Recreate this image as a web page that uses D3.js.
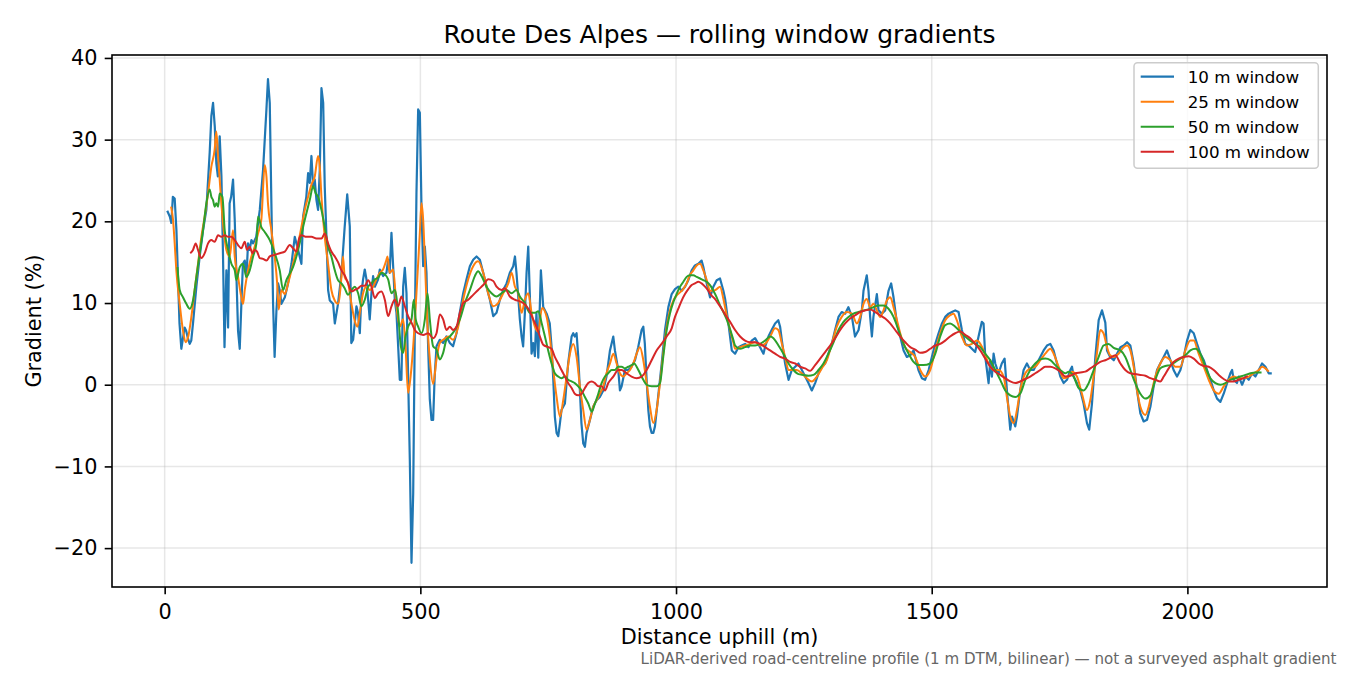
<!DOCTYPE html>
<html><head><meta charset="utf-8">
<script src="https://cdn.jsdelivr.net/npm/d3@7"></script>
<style>body{margin:0;background:#fff} svg{display:block} text{font-family:"DejaVu Sans",sans-serif}</style>
</head><body><svg id="c" width="1350" height="675"></svg>
<script>
// ---- data (distance uphill m, gradient %) ----
const win10=[[5,21.3],[10,20.6],[13,19.8],[16,23.0],[19.6,22.8],[23,18.9],[26,13.2],[29,7.5],[32.6,4.4],[36,5.8],[39,7.0],[42,6.6],[45.7,5.6],[49,5.0],[52,5.4],[55.4,7.5],[62,12],[68.5,15.7],[75,18.9],[81.5,21.4],[88,28.4],[91.3,32.9],[94.6,34.5],[98,31.6],[101,27.1],[104,25.5],[107.6,30.4],[111,25.5],[114,16.1],[117,4.6],[120.7,14],[124,7],[127,22.2],[130,23],[133.7,25.1],[137,20.2],[140,14],[143.5,6.6],[146.8,4.4],[150,9.9],[153,14.8],[156.6,15.2],[160,13.2],[163,17.3],[166,16.5],[169.6,17.7],[173,17.3],[179,18.1],[186,21.4],[192.4,26.3],[199,33.7],[202,37.4],[205.5,34.5],[208.7,22.2],[212,9.9],[215,3.4],[218.5,9.0],[221.8,12.4],[225,11.6],[228.3,9.9],[235,10.7],[241.3,12.4],[248,14.8],[254.4,18.1],[261,16.5],[267.4,14.8],[270.7,20.6],[277,23],[280.5,25.9],[283.7,24.7],[287,28],[290.3,24.3],[293.5,25.1],[296.8,22.6],[300,21.4],[303.3,26.3],[306.6,36.3],[310,34.5],[313,24.3],[316.4,18.1],[319.6,11.6],[322.9,10.3],[329.4,9.9],[332.7,7.5],[339,9.9],[345.7,13.6],[352,19.3],[357,23.3],[362,19.4],[365,5.1],[368.5,5.5],[375,9.6],[378,8.8],[381.6,6.3],[384.8,11.2],[388,12.9],[391.3,14.1],[394.6,12.9],[397.9,10.4],[401,8.0],[404.4,11.2],[407.6,13.3],[411,12.0],[417.4,12.9],[420.7,14.1],[427.2,13.3],[433.7,13.7],[437,15.3],[440,13.7],[443.5,18.6],[446.8,14.5],[450,10.4],[453.3,8.8],[456.6,4.7],[459.8,0.6],[463,0.6],[466.4,12.0],[469.6,14.3],[472.9,11.2],[476.1,1.0],[479.4,-9.2],[482.7,-21.8],[486,-13.3],[489.2,7.1],[492.4,23.5],[495.7,33.7],[499,33.3],[502.3,21.4],[505.5,14.5],[508.8,16.9],[512,13.7],[515,5.1],[518.5,-1.8],[521.8,-4.3],[525,-4.3],[528,1.0],[531.6,4.7],[538,5.5],[544.6,5.1],[551,5.9],[557.7,5.1],[564,4.7],[570.7,6.3],[577,8.8],[583.8,11.2],[590.3,12.9],[596.8,14.5],[603.3,15.3],[609.9,15.7],[616.4,15.3],[623,13.7],[629.4,12.0],[636,10.4],[642.5,8.4],[649,8.8],[655.5,10.4],[662,11.6],[668.6,12.4],[675,13.7],[681.6,14.5],[685,15.7],[688,13.7],[691.4,10.8],[694.6,8.0],[698,5.9],[701,4.7],[704.4,8.8],[707.7,13.7],[711,16.9],[714,11.2],[717.5,3.8],[720.7,5.1],[724,3.5],[727,8.8],[730.6,3.3],[735.7,14.0],[740.3,9.5],[747,8.7],[753,7.5],[756.6,4.6],[760,0.6],[763,-3.9],[766.4,-5.9],[769.7,-6.3],[773,-4.7],[776,-3.1],[782.7,-2.3],[789,2.6],[795.8,5.9],[799,6.3],[802,5.9],[805.5,6.3],[808.8,3.4],[812,-0.7],[815,-4.7],[818.6,-7.2],[821.8,-7.6],[825,-5.9],[831.6,-4.3],[838,-2.7],[844.7,-1.9],[851,-1.5],[857.7,-0.7],[864,1.0],[870.8,4.2],[877.3,5.9],[880.5,4.2],[887,1.8],[890.3,-0.7],[893.6,-0.2],[900,1.8],[906.6,1.8],[913,2.2],[919.7,3.0],[926,4.6],[932.7,6.7],[936,7.1],[939,5.0],[942.5,0.6],[945.8,-3.1],[949,-5.1],[952.3,-5.9],[955.6,-5.9],[958.8,-5.1],[965,-1.5],[972,2.6],[978.4,6.7],[985,9.5],[991.5,11.1],[998,11.7],[1004.5,12.0],[1011,11.5],[1017.5,12.0],[1024,12.8],[1030.6,14.0],[1037,14.6],[1043.6,14.8],[1050,15.2],[1053.4,14.4],[1060,12.4],[1066.5,10.7],[1073,12.0],[1079.5,12.8],[1086,13.0],[1092.6,11.5],[1096,10.5],[1102.4,7.5],[1109,4.2],[1115.5,3.8],[1122,4.6],[1128.5,4.8],[1135,5.0],[1141.6,4.6],[1148,5.4],[1154.6,5.7],[1161,5.0],[1167.6,4.2],[1171,3.8],[1174,4.6],[1180.7,5.9],[1187,6.7],[1193.7,7.5],[1200,7.9],[1203.5,7.1],[1207,5.4],[1213.3,2.6],[1220,0.6],[1226.4,1.8],[1233,2.2],[1239.4,2.6],[1246,1.8],[1252.5,1.0],[1259,0.2],[1265.5,-0.7],[1272,0.2],[1278.6,1.4],[1285,2.2],[1291.6,2.6],[1298,3.8],[1304.6,5.0],[1311,6.7],[1317.7,8.3],[1324,8.9],[1330.7,8.7],[1337,9.5],[1344,8.3],[1350,5.9],[1357,6.7],[1363.4,9.1],[1366.6,11.5],[1373,13.4],[1376.4,11.5],[1379.6,8.3],[1383,5.9],[1386,8.3],[1392.7,11.1],[1396,9.1],[1402.5,8.7],[1409,9.1],[1415.5,11.5],[1420.7,12.4],[1425.3,10.7],[1432,7.5],[1438.4,5.9],[1445,4.2],[1451.4,3.4],[1458,3.6],[1464.5,4.2],[1467.7,3.4],[1474,1.8],[1480.7,0.8],[1487,0.6],[1494,1.8],[1500.3,3.4],[1507,5.0],[1513.4,6.3],[1520,7.5],[1526.4,8.3],[1533,8.7],[1539.5,8.9],[1546,9.1],[1552.5,8.9],[1559,6.7],[1565.5,5.0],[1572,4.8],[1578.6,4.4],[1585,4.0],[1591.6,5.9],[1598,7.7],[1601.4,7.5],[1604.7,3.4],[1608,1.8],[1611.2,0.2],[1614.5,3.0],[1617.7,1.0],[1621,3.8],[1624.3,2.6],[1630.8,1.4],[1637,2.6],[1642.5,3.2],[1647,-0.7],[1653.6,-5.5],[1657,-3.9],[1663.4,-5.1],[1666.7,-3.9],[1673,-0.7],[1679.7,1.8],[1686.2,2.6],[1692.7,1.8],[1699.3,1.8],[1705.8,2.6],[1712.3,3.4],[1718.8,4.2],[1725.4,4.8],[1732,5.0],[1738.4,4.2],[1745,2.6],[1751.5,1.0],[1758,0.2],[1764.5,0.6],[1771,1.8],[1774.3,2.2],[1777.5,1.0],[1784,0.2],[1790.6,-0.7],[1797,-2.3],[1803.6,-4.7],[1808,-5.5],[1813.4,-2.3],[1820,3.4],[1826.5,7.9],[1833,9.1],[1839.5,7.6],[1842.8,4.2],[1849,3.4],[1856,3.0],[1862.3,3.8],[1869,4.6],[1875.4,4.8],[1882,5.2],[1888.4,4.8],[1895,2.6],[1901.5,-0.7],[1908,-3.5],[1914.5,-4.5],[1921,-4.3],[1927.6,-2.7],[1934,-0.2],[1940.6,1.8],[1947,2.6],[1953.6,3.4],[1960,4.2],[1966.7,3.0],[1973,1.8],[1979.7,1.0],[1986.3,1.8],[1992.8,3.4],[1999.3,5.4],[2005.8,6.7],[2012.4,6.3],[2018.9,5.0],[2025.4,3.8],[2032,3.0],[2038.5,1.8],[2045,0.6],[2051.5,-0.7],[2058,-1.7],[2064.5,-2.1],[2071,-1.1],[2077.6,0.2],[2084,1.4],[2087.4,1.8],[2090.6,0.6],[2097,0.2],[2100.4,1.0],[2107,0.0],[2113.5,1.0],[2120,0.6],[2126.5,1.4],[2133,1.0],[2139.6,1.8],[2146,2.6],[2152.6,2.2],[2159,1.4],[2165,1.4]];

const win25=[[12.5,21.8],[16.3,20.2],[19.6,17.3],[22.8,14.0],[29.4,9.9],[35.9,6.6],[41,5.2],[45.7,5.8],[52.2,8.3],[58.7,11.6],[65.2,14.8],[71.8,18.1],[78.3,20.6],[84.8,23.4],[91.3,26.7],[97.8,28.8],[101,31.0],[104.4,28.0],[107.6,25.1],[114,19.8],[120.7,16.5],[127.2,15.7],[130.5,17.3],[133.7,18.9],[137,15.7],[143.5,13.2],[150,10.7],[153.3,9.9],[156.6,11.6],[163,14.0],[169.6,15.7],[176,16.9],[182.6,18.5],[189,20.2],[195.7,26.9],[199,25.5],[202,22.2],[208.7,18.9],[215,15.7],[220,12.4],[223,9.2],[228.3,11.6],[235,11.1],[241.3,12.4],[248,14.0],[254.4,15.7],[261,17.3],[267.4,19.3],[274,21.4],[280.5,23.0],[287,24.5],[293.5,25.5],[300,28.0],[303.3,26.7],[306.6,23.0],[313,18.1],[319.6,14.8],[326,11.6],[332.7,10.3],[339,9.9],[345.7,13.2],[348.8,15.7],[352,13.2],[358.5,12.5],[365,10.0],[371.8,7.8],[377,7.1],[381.6,8.8],[388,11.2],[394.6,12.0],[401,11.6],[407.6,12.0],[414,12.9],[420.7,13.7],[427,14.1],[433.7,15.3],[435.7,15.7],[440,13.7],[446.8,14.1],[453.3,9.6],[459.8,7.1],[466.4,8.0],[471,4.7],[476,-1.0],[479.4,0.2],[486,4.7],[492.4,11.2],[499,18.6],[502.2,22.2],[505.5,20.2],[508.8,15.3],[514,7.1],[518.5,3.1],[525,0.1],[531.6,3.1],[538,5.1],[544.6,5.5],[554.4,5.9],[564,5.5],[574,7.1],[583.8,10.4],[593.6,12.9],[603.3,14.5],[613,15.1],[623,13.7],[632.7,11.2],[642.5,9.6],[652,10.0],[662,11.2],[672,12.4],[678.4,13.7],[685,12.0],[691.4,11.2],[698,8.8],[704.4,10.4],[711,11.2],[717.5,8.8],[724,7.1],[730.5,6.5],[738,9.4],[747,8.3],[753,5.9],[760,1.8],[766.4,-1.5],[773,-3.9],[779.4,-1.9],[786,1.0],[792.5,3.8],[799,5.0],[805.5,3.4],[812,-0.2],[818.6,-3.1],[825,-5.5],[831.6,-4.3],[838,-2.7],[844.7,-1.9],[851,-1.1],[857.7,-0.2],[864,1.4],[870.8,2.6],[877.3,3.8],[883.8,2.6],[890.3,1.4],[896.8,1.0],[903.4,1.4],[910,1.8],[916.4,2.6],[923,3.8],[929.5,4.6],[936,3.0],[942.5,0.2],[949,-2.7],[955.6,-4.7],[962,-3.1],[968.6,0.2],[975,3.8],[981.7,7.1],[988,9.1],[994.7,10.3],[1001,10.9],[1007.8,11.3],[1014,11.7],[1020.8,12.4],[1027,13.4],[1033.8,14.0],[1040.4,14.6],[1047,14.8],[1053.4,14.0],[1060,12.8],[1066.5,11.5],[1073,11.5],[1079.5,11.7],[1086,12.0],[1092.6,10.5],[1099,8.5],[1105.6,6.7],[1112,5.2],[1115.5,4.4],[1125,4.6],[1135,4.8],[1145,5.0],[1154.6,5.2],[1164.4,4.8],[1174,5.0],[1184,5.9],[1193.7,6.9],[1200,6.7],[1207,5.0],[1213.3,3.4],[1220,1.8],[1226.4,1.8],[1236,1.8],[1246,1.4],[1255.7,0.8],[1265.5,0.4],[1275.3,1.0],[1285,2.0],[1295,3.0],[1304.6,5.0],[1314.4,7.1],[1324,8.3],[1334,8.9],[1344,8.7],[1353.6,7.5],[1360,8.3],[1366.6,9.9],[1373,10.5],[1379.6,9.5],[1386,9.9],[1392.7,9.1],[1399.2,8.3],[1405.7,9.1],[1412.3,10.3],[1419,10.7],[1425.3,9.5],[1432,7.9],[1438.4,6.3],[1448,4.6],[1458,4.0],[1467.7,3.4],[1477.5,1.8],[1487.3,1.0],[1497,1.8],[1507,4.2],[1516.6,6.3],[1526.4,7.9],[1536,8.5],[1542.7,8.7],[1549,7.9],[1559,5.9],[1568.8,4.8],[1578.6,5.0],[1588.4,5.4],[1595,5.0],[1601.4,4.2],[1611.2,2.6],[1621,1.8],[1630.8,1.8],[1640.6,1.0],[1647,-1.5],[1653.6,-3.9],[1660,-4.7],[1666.7,-3.1],[1673,-0.7],[1683,1.4],[1692.7,2.0],[1702.5,2.2],[1712.3,3.0],[1722,3.8],[1732,4.4],[1738.4,3.8],[1748.2,2.2],[1758,0.8],[1767.8,1.0],[1774.3,1.6],[1784,1.0],[1793.8,-1.1],[1803.6,-3.1],[1810,-1.9],[1816.7,1.0],[1823,3.8],[1829.7,6.7],[1836,6.3],[1842.8,4.6],[1849,3.6],[1856,3.4],[1865.6,3.8],[1875.4,4.6],[1882,4.8],[1888.4,4.2],[1895,2.2],[1901.5,-0.7],[1908,-2.7],[1917.8,-3.7],[1924.3,-2.7],[1930.8,-0.7],[1937.3,1.0],[1947,2.6],[1957,3.4],[1966.7,3.0],[1976.5,2.2],[1986.3,2.2],[1996,4.2],[2005.8,5.4],[2012.4,5.4],[2022,3.8],[2032,2.2],[2041.7,0.6],[2051.5,-0.7],[2061.3,-1.1],[2071,-0.2],[2081,0.6],[2090.6,1.0],[2100.4,0.8],[2110,0.8],[2120,1.0],[2129.8,1.4],[2139.6,1.8],[2146,2.2],[2152.6,2.0],[2159,1.6]];

const win50=[[25,14.4],[29.4,11.6],[35.9,10.7],[42.4,9.9],[49,9.3],[55.4,10.3],[62,13.2],[68.5,16.1],[75,18.9],[81.5,22.2],[88,23.9],[91.3,23.0],[94.6,22.6],[97.8,21.8],[101,22.2],[104.4,21.8],[107.6,23.4],[112.9,23.0],[117.4,18.9],[124,16.5],[130.5,14.8],[137,14.0],[140.2,12.8],[146.8,14.4],[153.3,14.8],[159.8,13.2],[166.3,14.0],[172.9,15.7],[179.4,17.3],[182.6,20.6],[189,19.3],[195.7,18.7],[205.5,17.7],[215.3,16.1],[225,14.0],[231.6,11.6],[238,12.8],[244.6,13.6],[251,14.4],[257.6,15.7],[264,17.3],[270.7,19.3],[277.2,21.0],[283.7,22.6],[290.3,24.3],[295.5,23.4],[300,23.0],[306.6,21.4],[313,19.3],[319.6,16.9],[326,15.7],[332.7,14.0],[339,12.8],[345.7,12.4],[352,11.8],[358.7,11.0],[365.2,11.6],[371.8,12.0],[378.3,11.2],[384.8,9.6],[391.3,10.4],[397.9,12.0],[404.4,12.4],[411,12.9],[417.4,13.1],[424,13.7],[430.5,13.5],[437,12.9],[443.5,11.2],[450,11.6],[456.6,8.8],[461.8,4.7],[466.4,3.9],[471,5.9],[476,7.1],[482.7,8.0],[487.2,10.4],[491,8.0],[495.7,7.1],[502.2,6.3],[508.8,8.0],[514,11.2],[518.5,8.0],[525,4.7],[531.6,4.3],[538,3.1],[544.6,3.9],[551,5.5],[557.7,5.9],[567.5,6.7],[577.3,8.0],[587,10.0],[597,11.6],[606.6,13.3],[613,13.9],[619.7,13.3],[629.4,12.0],[639.2,11.2],[649,10.8],[658.8,11.2],[668.6,11.6],[678.4,11.2],[688.1,11.6],[694.6,10.8],[704.4,10.0],[714,8.8],[724,8.8],[730.6,9.0],[737,7.6],[743.6,5.9],[750,4.2],[756.6,2.6],[763,1.4],[769.7,1.0],[776,0.8],[782.7,1.0],[789,0.6],[795.8,0.4],[802,0.2],[808.8,-0.2],[815.3,-0.7],[821.8,-1.5],[828.4,-2.3],[835,-3.3],[841.4,-2.3],[848,-1.1],[854.5,0.2],[861,1.0],[867.5,1.4],[874,1.8],[880.5,1.8],[887,2.2],[893.6,2.2],[900,2.0],[906.6,2.2],[913,2.4],[918.4,2.6],[923,2.2],[929.5,1.4],[936,0.6],[942.5,0.0],[952.3,-0.2],[962,-0.2],[968.6,0.2],[975,3.4],[981.7,6.7],[988,8.7],[994.7,10.1],[1001,11.1],[1007.8,12.0],[1014.3,12.6],[1020.8,13.2],[1027.3,13.4],[1033.8,13.4],[1040.4,13.2],[1047,13.0],[1053.4,12.8],[1060,12.6],[1066.5,12.2],[1073,11.5],[1079.5,10.7],[1086,9.7],[1092.6,8.9],[1099,8.0],[1105.6,6.8],[1112,5.5],[1115.5,4.8],[1125.3,4.4],[1135,4.6],[1145,4.8],[1154.6,4.8],[1164.4,5.0],[1174,5.4],[1184,5.9],[1190.5,5.7],[1200.3,4.8],[1210,3.8],[1220,2.6],[1229.6,1.8],[1239.4,1.3],[1249.2,1.2],[1259,1.1],[1268.8,1.2],[1278.6,1.8],[1288.3,2.6],[1298,3.8],[1308,5.2],[1317.7,6.7],[1327.5,7.7],[1337.3,8.3],[1347,8.7],[1357,8.9],[1366.6,9.1],[1376.4,9.2],[1386,9.5],[1396,9.7],[1405.7,9.7],[1415.5,9.3],[1425.3,8.3],[1435,6.7],[1445,5.0],[1454.7,3.8],[1464.5,2.8],[1474.3,2.4],[1484,2.4],[1497,2.6],[1507,3.8],[1516.6,5.9],[1526.4,7.3],[1536,7.5],[1546,7.1],[1555.8,6.5],[1565.5,5.9],[1575.3,5.4],[1585,5.0],[1595,4.6],[1604.7,3.8],[1614.5,3.0],[1624.3,1.8],[1634,0.6],[1643.8,-0.7],[1653.6,-1.3],[1663.4,-1.5],[1673,-1.1],[1683,0.6],[1692.7,1.8],[1702.5,2.6],[1712.3,3.1],[1722,3.2],[1732,3.0],[1741.7,2.4],[1751.5,1.8],[1761.2,1.4],[1767.8,1.6],[1777.5,1.0],[1787.3,-0.4],[1797,-0.7],[1807,0.2],[1816.7,1.8],[1826.5,3.4],[1836,4.8],[1846,5.0],[1856,4.5],[1869,4.2],[1878.6,3.4],[1888.4,1.8],[1898,0.2],[1908,-1.1],[1917.8,-1.7],[1927.6,-1.3],[1937.3,0.6],[1947,2.0],[1957,2.3],[1966.7,2.4],[1976.5,2.8],[1986.3,3.2],[1996,3.6],[2005.8,4.2],[2015.6,4.4],[2025.4,3.8],[2035,2.2],[2045,0.8],[2054.8,0.2],[2064.5,0.0],[2074.3,0.2],[2084,0.6],[2094,0.8],[2103.7,1.0],[2113.5,1.2],[2123.3,1.4],[2133,1.5],[2145,1.5]];

const win100=[[50,16.1],[55.4,16.5],[60.7,17.3],[65.2,16.5],[71.8,15.5],[78.3,16.1],[84.8,17.3],[91.3,17.7],[97.8,17.5],[104.4,18.3],[111,18.1],[117.4,18.3],[124,18.1],[130.5,18.1],[137,17.7],[143.5,17.1],[150,16.7],[156.6,17.5],[161,16.5],[166.3,16.9],[171.6,16.1],[176,16.5],[180.7,16.3],[186,15.5],[192.4,15.4],[199,15.2],[205.5,15.7],[215.3,15.9],[225,16.1],[235,16.3],[244.6,17.1],[251,16.7],[257.6,16.3],[263,17.9],[267.4,18.3],[277.2,18.1],[287,18.1],[296.8,17.9],[306.6,17.9],[313,18.5],[319.6,17.3],[326,16.3],[332.7,15.7],[339,15.0],[345.7,14.0],[352,13.4],[358.7,12.4],[365.2,11.4],[371.8,11.6],[378.3,11.8],[384.8,12.1],[391.3,12.1],[397.9,12.8],[404.4,12.0],[411,10.6],[417.4,11.2],[424,11.4],[430.5,10.4],[437,8.4],[443.5,9.6],[450,10.4],[456.6,9.6],[463,10.8],[469.6,9.6],[476,8.4],[482.7,7.6],[489.2,6.7],[495.7,6.3],[505.5,6.1],[515.3,6.3],[525,5.7],[531.6,6.3],[538,8.6],[544.6,8.0],[551,6.7],[557.7,7.1],[564,6.7],[570.7,7.1],[577.3,8.8],[583.8,10.0],[593.6,10.4],[603.3,11.0],[613,11.6],[623,12.2],[632.7,12.9],[642.5,12.7],[649,12.0],[658.8,11.6],[665,11.8],[675,10.8],[685,10.4],[694.6,10.2],[701,10.0],[707.7,9.6],[714,9.0],[720.7,8.0],[727.3,7.1],[733.8,5.9],[740.3,4.9],[750,4.6],[756.6,4.4],[763,3.4],[769.7,2.6],[776,1.8],[782.7,1.0],[789,0.2],[795.8,-0.4],[802,-1.1],[808.8,-1.3],[815.3,-1.1],[821.8,-0.4],[828.4,0.2],[835,0.4],[841.4,0.2],[848,-0.2],[854.5,-0.2],[861,-0.7],[867.5,0.2],[877.3,1.0],[887,1.8],[893.6,1.8],[903.4,1.4],[913,1.0],[923,0.8],[932.7,1.0],[942.5,1.8],[952.3,3.0],[962,4.2],[971.8,5.0],[981.7,5.9],[991.5,6.9],[998,8.3],[1004.5,9.3],[1011,10.3],[1017.5,11.1],[1024,11.7],[1030.6,12.2],[1037,12.4],[1043.6,12.6],[1050,12.4],[1056.7,12.0],[1063,11.5],[1069.7,10.9],[1076,10.5],[1082.8,9.9],[1089.3,9.3],[1096,8.6],[1105.7,7.7],[1115.5,6.7],[1125.3,5.9],[1135,5.4],[1145,5.2],[1154.6,5.2],[1164.4,5.0],[1174,4.6],[1184,4.2],[1193.7,3.8],[1203.5,3.4],[1213.3,3.2],[1223,2.8],[1233,2.6],[1242.7,2.2],[1252.5,2.0],[1262.2,1.7],[1272,2.4],[1281.8,3.2],[1291.6,4.0],[1301.4,4.8],[1311.2,5.7],[1321,6.7],[1330.7,7.5],[1340.5,8.1],[1350.3,8.5],[1360,8.9],[1370,9.1],[1379.6,9.2],[1389.4,8.9],[1399.2,8.5],[1409,8.1],[1418.8,7.5],[1428.6,6.7],[1438.4,5.9],[1448.2,5.2],[1458,4.6],[1467.7,4.3],[1477.5,3.9],[1487.3,4.0],[1497,4.4],[1507,4.8],[1516.6,5.0],[1526.4,5.4],[1536,5.9],[1546,6.3],[1555.8,6.5],[1565.5,6.1],[1575.3,5.7],[1585,5.0],[1595,4.2],[1604.7,3.2],[1614.5,2.2],[1624.3,1.6],[1634,1.2],[1643.8,0.8],[1653.6,0.4],[1663.4,0.2],[1673,0.4],[1683,0.7],[1692.7,1.0],[1702.5,1.4],[1712.3,1.8],[1722,2.2],[1732,2.2],[1741.7,2.0],[1751.5,1.6],[1761.2,1.0],[1771,1.1],[1780.8,1.4],[1790.6,1.5],[1800.4,1.6],[1810.2,2.0],[1820,2.4],[1829.7,2.8],[1839.5,3.0],[1849.3,3.3],[1859,3.6],[1869,2.6],[1878.6,1.8],[1888.4,1.4],[1898.2,1.3],[1908,1.2],[1917.8,1.1],[1927.6,0.8],[1937.3,0.6],[1947,0.4],[1953.7,1.0],[1963.4,2.0],[1973.2,2.8],[1983,3.2],[1992.8,3.4],[2002.6,3.5],[2012.4,3.2],[2022.2,2.6],[2032,2.3],[2041.7,2.2],[2051.5,1.8],[2061.3,1.2],[2071,0.7],[2081,0.4],[2090.6,0.4],[2100.4,0.6],[2110.2,0.8],[2118,1.1]];

const seriesLabels=["10 m window","25 m window","50 m window","100 m window"];
const seriesColors=["#1f77b4","#ff7f0e","#2ca02c","#d62728"];
const xTickValues=[0,500,1000,1500,2000];
const yTickValues=[-20,-10,0,10,20,30,40];
const titleText="Route Des Alpes \u2014 rolling window gradients";
const xLabelText="Distance uphill (m)";
const yLabelText="Gradient (%)";
const footerText="LiDAR-derived road-centreline profile (1 m DTM, bilinear) \u2014 not a surveyed asphalt gradient";

// ---- drawing ----
const svg=d3.select("#c");
const L=112,R=1327,T=55,B=587;
const series=[win10,win25,win50,win100];
const allPts=series.flat();
const [x0,x1]=d3.extent(allPts,d=>d[0]);
const [y0,y1]=d3.extent(allPts,d=>d[1]);
const mx=(x1-x0)*0.05,my=(y1-y0)*0.05;
const x=d3.scaleLinear().domain([x0-mx,x1+mx]).range([L,R]);
const y=d3.scaleLinear().domain([y0-my,y1+my]).range([B,T]);

// grid
const grid=svg.append("g");
grid.selectAll("line.gx").data(xTickValues).join("line")
  .attr("x1",d=>x(d)).attr("x2",d=>x(d)).attr("y1",T).attr("y2",B)
  .attr("stroke","#b0b0b0").attr("stroke-opacity",0.3).attr("stroke-width",1.5);
grid.selectAll("line.gy").data(yTickValues).join("line")
  .attr("y1",d=>y(d)).attr("y2",d=>y(d)).attr("x1",L).attr("x2",R)
  .attr("stroke","#b0b0b0").attr("stroke-opacity",0.3).attr("stroke-width",1.5);

// lines
const widths=[2.2,2.0,2.0,2.0];
series.forEach((s,i)=>{
  const line=d3.line().x(d=>x(d[0])).y(d=>y(d[1]))
    .curve(i===0?d3.curveLinear:d3.curveMonotoneX);
  svg.append("path").datum(s).attr("d",line).attr("fill","none")
    .attr("stroke",seriesColors[i]).attr("stroke-width",widths[i])
    .attr("stroke-linejoin","round").attr("stroke-linecap","butt");
});

// axes
const fs=20.8;
const gx=svg.append("g").attr("transform",`translate(0,${B})`)
  .call(d3.axisBottom(x).tickValues(xTickValues).tickFormat(d3.format("d")).tickSize(7.3).tickPadding(9.6).tickSizeOuter(0));
const gy=svg.append("g").attr("transform",`translate(${L},0)`)
  .call(d3.axisLeft(y).tickValues(yTickValues).tickFormat(d3.format("d")).tickSize(7.3).tickPadding(7.3).tickSizeOuter(0));
[gx,gy].forEach(g=>{
  g.select(".domain").remove();
  g.selectAll(".tick line").attr("stroke","#000").attr("stroke-width",1.6);
  g.selectAll(".tick text").attr("fill","#000").style("font-size",fs+"px").style("font-family","DejaVu Sans");
});

// spines
svg.append("rect").attr("x",L).attr("y",T).attr("width",R-L).attr("height",B-T)
  .attr("fill","none").attr("stroke","#000").attr("stroke-width",1.6);

// texts
svg.append("text").attr("x",(L+R)/2).attr("y",42.5).attr("text-anchor","middle")
  .style("font-size","25px").text(titleText);
svg.append("text").attr("x",(L+R)/2).attr("y",644).attr("text-anchor","middle")
  .style("font-size",fs+"px").text(xLabelText);
svg.append("text").attr("transform",`translate(41,${(T+B)/2}) rotate(-90)`).attr("text-anchor","middle")
  .style("font-size",fs+"px").text(yLabelText);
svg.append("text").attr("x",1336.5).attr("y",664).attr("text-anchor","end")
  .attr("fill","#666").style("font-size","15.1px").text(footerText);

// legend
const lg=svg.append("g");
lg.append("rect").attr("x",1134).attr("y",62.7).attr("width",184.3).attr("height",105.6).attr("rx",3.5)
  .attr("fill","#fff").attr("fill-opacity",0.8).attr("stroke","#cccccc").attr("stroke-width",1.5);
seriesLabels.forEach((lab,i)=>{
  const cy=76.7+i*25;
  lg.append("line").attr("x1",1140.7).attr("x2",1174).attr("y1",cy).attr("y2",cy)
    .attr("stroke",seriesColors[i]).attr("stroke-width",widths[i]);
  lg.append("text").attr("x",1187.7).attr("y",cy+6).style("font-size","16.7px").text(lab);
});
</script></body></html>
